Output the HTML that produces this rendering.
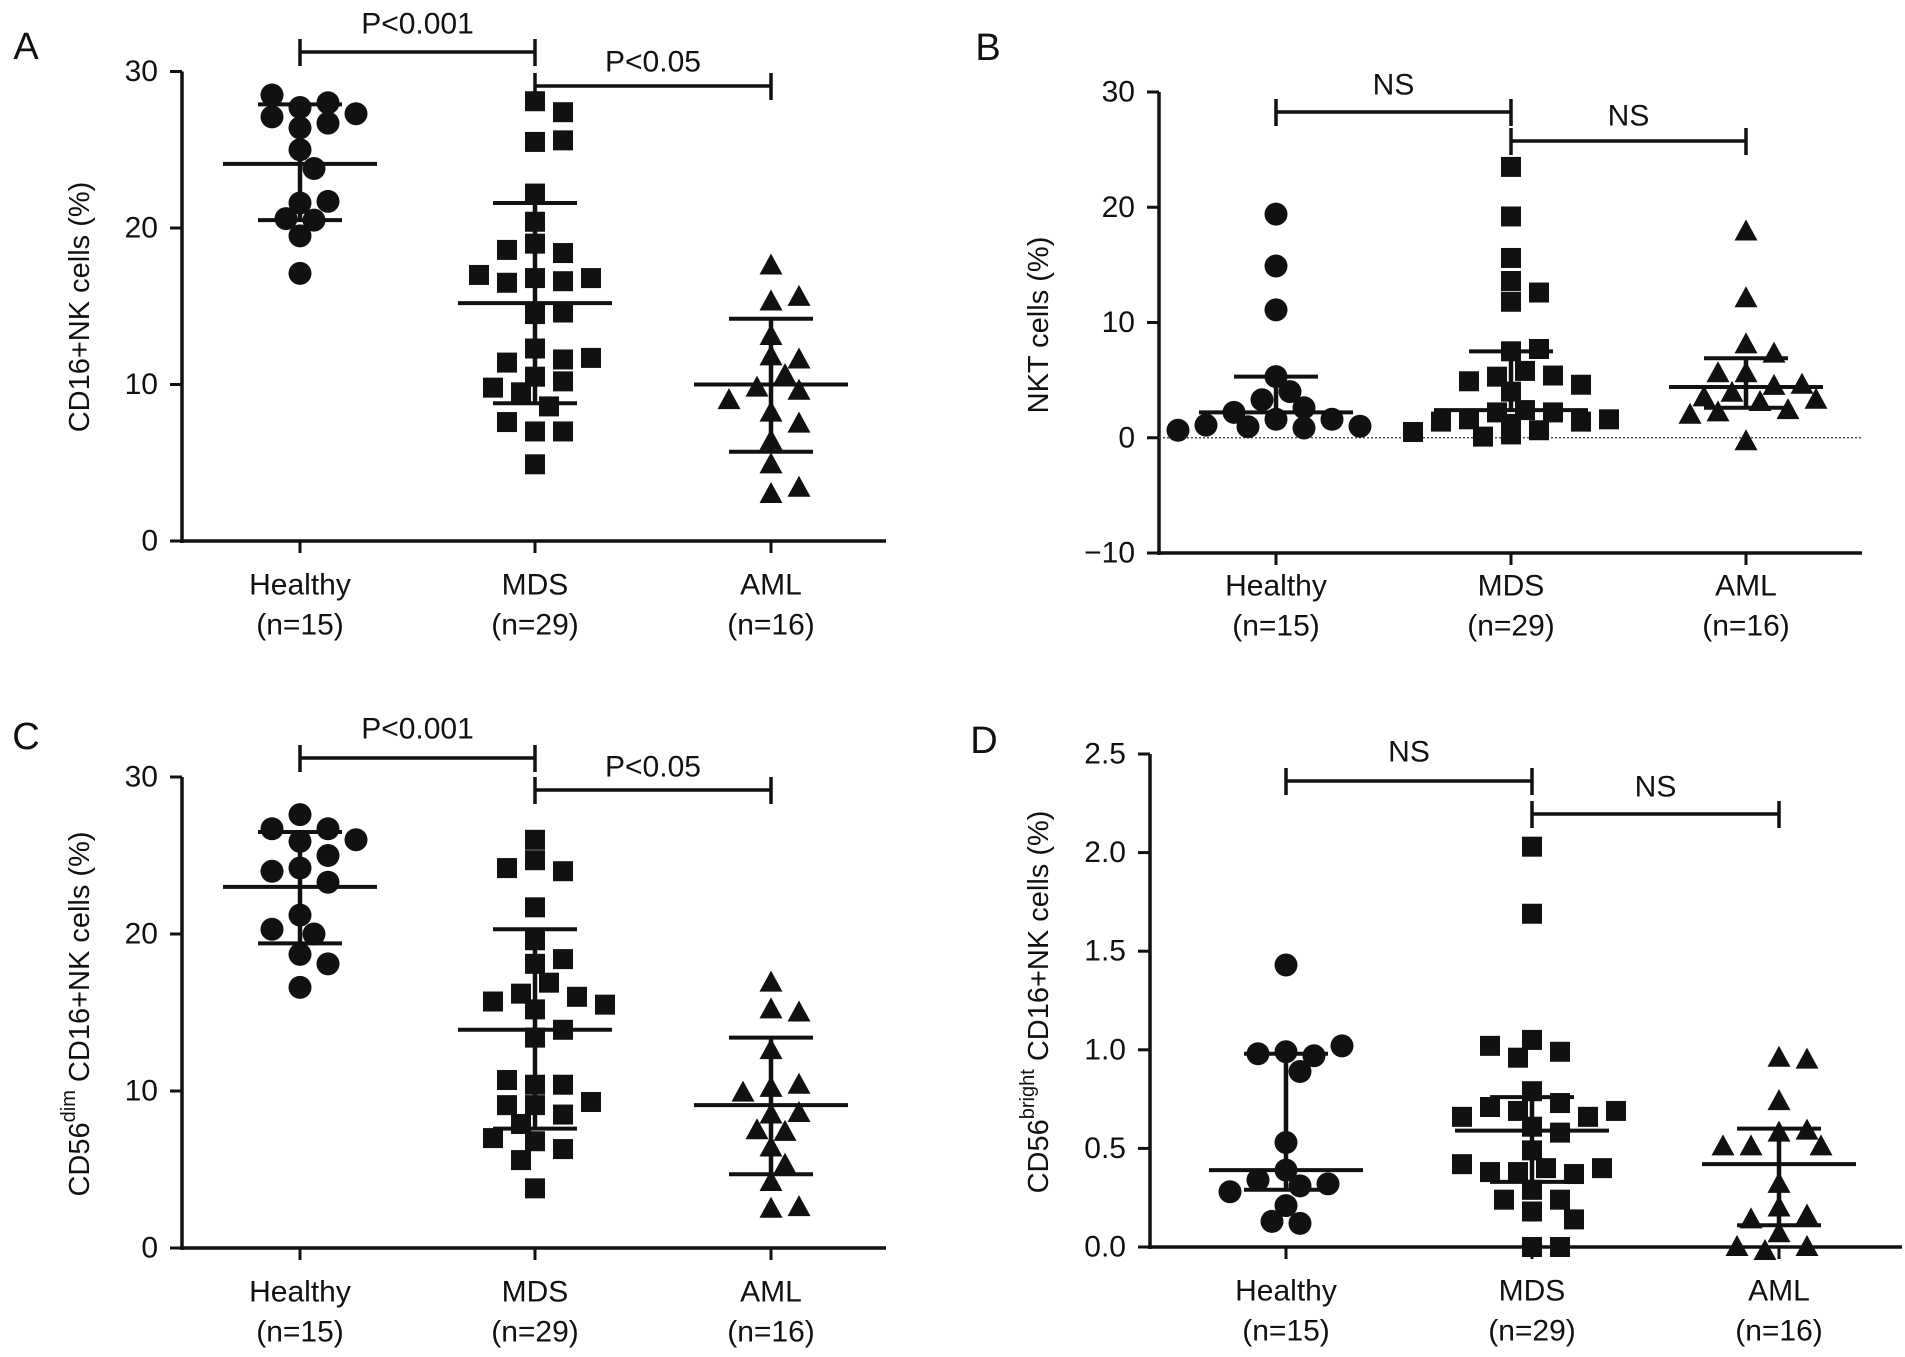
<!DOCTYPE html>
<html><head><meta charset="utf-8"><style>
body{margin:0;background:#fff}
svg{display:block}
text{font-family:"Liberation Sans",Arial,sans-serif;fill:#111}
</style></head><body>
<svg id="fig" width="1905" height="1357" viewBox="0 0 1905 1357" xmlns="http://www.w3.org/2000/svg"></svg>
<script>
const categories = ["Healthy","MDS","AML"];
const nLabels = ["(n=15)","(n=29)","(n=16)"];
// Panel A
const aHealthy = [27.7,28.0,28.5,27.1,27.3,26.4,26.7,25.0,23.8,21.6,21.7,20.5,20.6,19.5,17.1];
const aMDS = [28.1,27.4,25.5,25.6,22.2,20.4,19.0,18.4,18.6,16.8,16.6,16.5,16.8,17.0,14.5,14.6,12.3,11.6,11.4,11.7,10.5,10.2,9.5,9.8,8.6,7.0,7.0,7.6,4.9];
const aAML = [17.6,15.3,15.6,13.1,11.8,11.6,10.6,9.8,9.6,9.0,8.2,7.5,6.4,4.9,3.0,3.4];
const aMean = [24.1,15.2,10.0];
const aUpper = [27.9,21.6,14.2];
const aLower = [20.5,8.8,5.7];
const aTicks = [0,10,20,30];
// Panel B
const bHealthy = [19.4,14.9,11.1,5.3,4.0,3.3,2.6,2.2,1.6,1.6,1.1,0.95,0.85,1.0,0.65];
const bMDS = [23.5,19.2,15.6,13.6,12.6,11.8,7.5,7.7,5.8,5.3,5.4,4.9,4.6,4.0,2.4,2.2,2.2,1.6,1.4,1.4,1.6,0.8,0.65,0.5,0.8,1.2,0.1,0.3,0.3];
const bAML = [17.9,12.1,8.1,7.3,5.6,5.6,4.5,4.6,3.9,3.5,3.3,3.1,2.2,2.4,2.0,-0.3];
const bMean = [2.2,2.4,4.4];
const bUpper = [5.3,7.5,6.9];
const bLower = [2.2,2.4,2.6];
const bTicks = [-10,0,10,20,30];
// Panel C
const cHealthy = [27.6,26.7,26.7,25.9,26.0,25.0,24.2,24.0,23.3,21.2,20.0,20.3,18.7,18.1,16.6];
const cMDS = [26.0,24.7,24.0,24.2,21.7,19.6,18.1,18.4,16.9,16.2,16.0,15.7,15.2,15.5,13.4,13.9,10.4,10.4,10.7,9.1,8.5,9.1,9.3,7.9,6.8,6.3,7.0,5.6,3.8];
const cAML = [16.9,15.2,15.0,12.6,10.2,10.4,9.9,8.5,8.6,7.4,7.5,6.4,5.3,4.2,2.5,2.6];
const cMean = [23.0,13.9,9.1];
const cUpper = [26.5,20.3,13.4];
const cLower = [19.4,7.6,4.7];
const cTicks = [0,10,20,30];
// Panel D
const dHealthy = [1.43,0.99,0.97,0.98,1.02,0.89,0.53,0.39,0.31,0.34,0.32,0.28,0.21,0.12,0.13];
const dMDS = [2.03,1.69,1.05,0.99,0.96,1.02,0.79,0.73,0.69,0.71,0.66,0.66,0.69,0.61,0.58,0.49,0.40,0.38,0.37,0.38,0.40,0.42,0.29,0.24,0.24,0.18,0.14,0.0,0.0];
const dAML = [0.96,0.95,0.74,0.58,0.59,0.51,0.51,0.51,0.32,0.20,0.16,0.14,0.07,0.0,-0.02,0.0];
const dMean = [0.39,0.59,0.42];
const dUpper = [0.98,0.76,0.60];
const dLower = [0.29,0.33,0.11];
const dTicks = [0.0,0.5,1.0,1.5,2.0,2.5];
const dTickLabels = ["0.0","0.5","1.0","1.5","2.0","2.5"];

const NS="http://www.w3.org/2000/svg";
const svg=document.getElementById('fig');
function el(tag,attrs,parent){const e=document.createElementNS(NS,tag);for(const k in attrs)e.setAttribute(k,attrs[k]);(parent||svg).appendChild(e);return e;}
function line(g,x1,y1,x2,y2,w,extra){return el('line',Object.assign({x1:x1,y1:y1,x2:x2,y2:y2,stroke:'#111','stroke-width':w},extra||{}),g);}
function txt(g,x,y,s,size,anchor){const t=el('text',{x:x,y:y,'font-size':size,'text-anchor':anchor||'middle','dominant-baseline':'central'},g);t.textContent=s;return t;}

function panel(cfg){
  const g=el('g',{});
  
  
  const y=v=>cfg.y0+(v-cfg.vmin)*(cfg.y1-cfg.y0)/(cfg.vmax-cfg.vmin);
  const cx=i=>cfg.cx[i];
  const lab=txt(g,cfg.lx,cfg.ly,cfg.label,38,'middle');
  
  
  const ya=line(g,cfg.ax,y(cfg.vmax),cfg.ax,y(cfg.vmin)+2,3.5);
  
  
  cfg.ticks.forEach((t,i)=>{
    line(g,cfg.ax-12,y(t),cfg.ax,y(t),3);
    const tl=txt(g,cfg.ax-24,y(t),cfg.tickLabels?cfg.tickLabels[i]:(t<0?'\u2212'+(-t):String(t)),30,'end');
    
    
  });
  const xa=line(g,cfg.ax-2,y(cfg.vmin),cfg.xend,y(cfg.vmin),3.5);
  
  
  if(cfg.zeroLine){
    const z=line(g,cfg.ax,y(0),cfg.xend,y(0),1.5,{'stroke-dasharray':'2,2',stroke:'#555'});
    
    
  }
  categories.forEach((c,i)=>{
    line(g,cx(i),y(cfg.vmin),cx(i),y(cfg.vmin)+12,3);
    const t1=txt(g,cx(i),cfg.labY,c,30);
    
    
    const t2=txt(g,cx(i),cfg.labY+40,nLabels[i],30);
    
    
  });
  const tt=el('text',{x:0,y:0,'font-size':29,'text-anchor':'middle','dominant-baseline':'central',transform:'translate('+cfg.tx+','+cfg.ty+') rotate(-90)'},g);
  
  
  tt.innerHTML=cfg.title;
  cfg.brackets.forEach(b=>{
    const bg=el('g',{},g);
    
    
    line(bg,cx(b.a),b.y,cx(b.b),b.y,3.5);
    line(bg,cx(b.a),b.y-13,cx(b.a),b.y+14,3.5);
    line(bg,cx(b.b),b.y-13,cx(b.b),b.y+14,3.5);
    txt(bg,(cx(b.a)+cx(b.b))/2,b.ty,b.text,30);
  });
  const shapes=['circle','square','triangle'];
  cfg.series.forEach((vals,i)=>{
    const sg=el('g',{},g);
    
    
    const placed=[];
    vals.forEach(v=>{
      const py=y(v);
      const offs=[0,14,-14,28,-28,42,-42,56,-56,70,-70,84,-84,98,-98];
      let px=cx(i);
      for(const o of offs){
        const x=cx(i)+o;
        if(placed.every(p=>Math.hypot(p[0]-x,p[1]-py)>=20)){px=x;break;}
      }
      placed.push([px,py]);
      let m;
      if(shapes[i]==='circle') m=el('circle',{cx:px,cy:py,r:11.5,fill:'#111'},sg);
      else if(shapes[i]==='square') m=el('rect',{x:px-10,y:py-10,width:20,height:20,fill:'#111'},sg);
      else m=el('polygon',{points:(px)+','+(py-12)+' '+(px+11.5)+','+(py+9)+' '+(px-11.5)+','+(py+9),fill:'#111'},sg);
      
      
    });
    const eg=el('g',{},g);
    
    
    line(eg,cx(i),y(cfg.upper[i]),cx(i),y(cfg.lower[i]),4.5);
    line(eg,cx(i)-77,y(cfg.mean[i]),cx(i)+77,y(cfg.mean[i]),4);
    line(eg,cx(i)-42,y(cfg.upper[i]),cx(i)+42,y(cfg.upper[i]),4);
    if(cfg.lower[i]!==cfg.mean[i]) line(eg,cx(i)-42,y(cfg.lower[i]),cx(i)+42,y(cfg.lower[i]),4);
  });
}

panel({id:'a',label:'A',lx:26,ly:47,ax:182,xend:886,cx:[300,535,771],vmin:0,vmax:30,y0:541,y1:71.5,ticks:aTicks,labY:585,
  tx:80,ty:307,title:'CD16+NK cells (%)',
  brackets:[{a:0,b:1,y:52,ty:24,text:'P<0.001'},{a:1,b:2,y:86,ty:62,text:'P<0.05'}],
  series:[aHealthy,aMDS,aAML],mean:aMean,upper:aUpper,lower:aLower});
panel({id:'b',label:'B',lx:988,ly:48,ax:1159,xend:1862,cx:[1276,1511,1746],vmin:-10,vmax:30,y0:553,y1:92,ticks:bTicks,labY:586,zeroLine:true,
  tx:1039,ty:325,title:'NKT cells (%)',
  brackets:[{a:0,b:1,y:112,ty:85,text:'NS'},{a:1,b:2,y:141,ty:116,text:'NS'}],
  series:[bHealthy,bMDS,bAML],mean:bMean,upper:bUpper,lower:bLower});
panel({id:'c',label:'C',lx:26,ly:737,ax:182,xend:886,cx:[300,535,771],vmin:0,vmax:30,y0:1248,y1:777,ticks:cTicks,labY:1292,
  tx:80,ty:1014,title:'CD56<tspan font-size="20" dy="-11">dim</tspan><tspan dy="11"> CD16+NK cells (%)</tspan>',
  brackets:[{a:0,b:1,y:758,ty:729,text:'P<0.001'},{a:1,b:2,y:790,ty:767,text:'P<0.05'}],
  series:[cHealthy,cMDS,cAML],mean:cMean,upper:cUpper,lower:cLower});
panel({id:'d',label:'D',lx:984,ly:741,ax:1150,xend:1902,cx:[1286,1532,1779],vmin:0,vmax:2.5,y0:1247,y1:754,ticks:dTicks,tickLabels:dTickLabels,labY:1291,
  tx:1039,ty:1002,title:'CD56<tspan font-size="20" dy="-11">bright</tspan><tspan dy="11"> CD16+NK cells (%)</tspan>',
  brackets:[{a:0,b:1,y:781,ty:752,text:'NS'},{a:1,b:2,y:814,ty:787,text:'NS'}],
  series:[dHealthy,dMDS,dAML],mean:dMean,upper:dUpper,lower:dLower});
</script>
</body></html>
